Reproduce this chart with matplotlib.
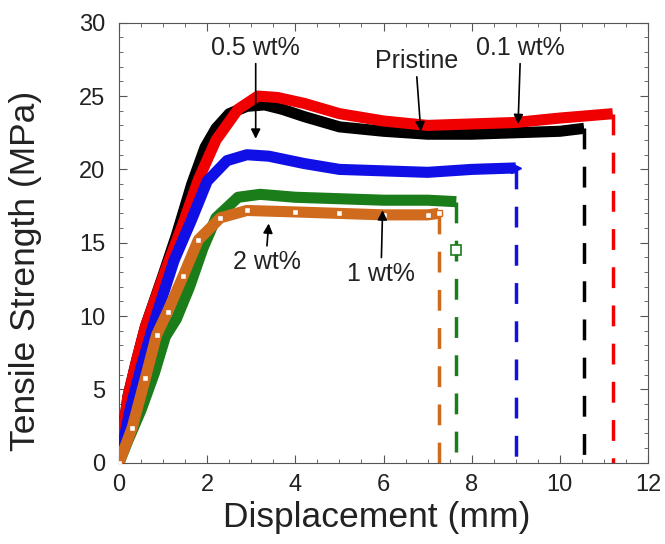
import matplotlib
matplotlib.use("Agg")
from matplotlib import pyplot as plt
from matplotlib.ticker import MultipleLocator

plt.rcParams['font.family'] = ['Liberation Sans', 'DejaVu Sans']

# curves: displacement (mm), tensile strength (MPa)
pristine_x = [0, 0.2, 0.4, 0.6, 1.0, 1.3, 1.65, 1.95, 2.2, 2.5, 2.9, 3.3, 3.7, 4.2, 5.0, 6.0, 7.0, 8.0, 9.0, 10.0, 10.55]
pristine_y = [0, 4.5, 7.0, 9.3, 12.8, 15.5, 19.0, 21.5, 22.8, 23.8, 24.3, 24.4, 24.1, 23.6, 22.9, 22.6, 22.4, 22.4, 22.5, 22.6, 22.8]

wt01_x = [0, 0.2, 0.4, 0.6, 1.05, 1.45, 1.8, 2.2, 2.7, 3.15, 3.6, 4.2, 5.0, 6.0, 7.0, 8.0, 9.0, 10.0, 11.2]
wt01_y = [0, 4.5, 7.0, 9.3, 13.1, 16.3, 19.3, 22.0, 24.1, 25.0, 24.9, 24.5, 23.8, 23.3, 23.0, 23.1, 23.2, 23.5, 23.8]

wt05_x = [0, 0.25, 0.5, 0.8, 1.25, 1.65, 2.0, 2.45, 2.9, 3.4, 4.2, 5.0, 6.0, 7.0, 8.0, 9.0]
wt05_y = [0, 3.6, 6.5, 9.6, 13.8, 16.6, 19.2, 20.6, 21.0, 20.9, 20.4, 20.0, 19.9, 19.8, 20.0, 20.1]

wt1_x = [0, 0.2, 0.5, 0.8, 1.05, 1.3, 1.6, 1.9, 2.2, 2.7, 3.2, 4.0, 5.0, 6.0, 7.0, 7.65]
wt1_y = [0, 1.5, 3.6, 6.1, 8.6, 9.8, 12.0, 14.6, 16.7, 18.1, 18.3, 18.1, 18.0, 17.9, 17.9, 17.8]

wt2_x = [0, 0.3, 0.6, 0.85, 1.1, 1.45, 1.8, 2.3, 2.9, 4.0, 5.0, 6.0, 7.0, 7.25]
wt2_y = [0, 2.4, 5.8, 8.7, 10.3, 12.7, 15.2, 16.7, 17.2, 17.1, 17.0, 16.9, 16.9, 17.0]

colors = {"pristine": "#000000", "0.1": "#f00000", "0.5": "#1010e6",
          "1": "#1a7d1a", "2": "#d06a1c"}

fig = plt.figure(figsize=(6.65, 5.44), dpi=100)
ax = fig.add_axes([0.179, 0.1494, 0.7955, 0.8088])

series = [
    (pristine_x, pristine_y, colors["pristine"]),
    (wt01_x, wt01_y, colors["0.1"]),
    (wt05_x, wt05_y, colors["0.5"]),
    (wt1_x, wt1_y, colors["1"]),
    (wt2_x, wt2_y, colors["2"]),
]
for xs, ys, c in series:
    ax.plot(xs, ys, color=c, lw=8, solid_capstyle="butt",
            solid_joinstyle="round", zorder=3)
    # failure line down to zero
    ax.plot([xs[-1], xs[-1]], [ys[-1], 0], color=c, lw=2.5,
            dashes=(6, 5), zorder=2)

# open square markers on the 2 wt% curve
ax.plot(wt2_x, wt2_y, ls="none", marker="s", ms=5, mfc="white",
        mec=colors["2"], mew=1, zorder=4)
ax.plot([wt1_x[-1]], [14.5], ls="none", marker="s", ms=7, mfc="white",
        mec=colors["1"], mew=1.2, zorder=4)
ax.plot([wt05_x[-1]], [wt05_y[-1]], ls="none", marker=">", ms=7,
        color=colors["0.5"], zorder=4)

arrow = dict(arrowstyle="-|>", color="black", lw=1.2, mutation_scale=14)
labels = [
    ("0.5 wt%", (3.1, 28.3), (3.1, 21.9), "bottom"),
    ("Pristine", (6.75, 27.4), (6.85, 22.4), "bottom"),
    ("0.1 wt%", (9.1, 28.3), (9.05, 22.9), "bottom"),
    ("2 wt%", (3.35, 13.7), (3.4, 16.5), "top"),
    ("1 wt%", (5.95, 12.9), (5.98, 17.4), "top"),
]
for text, xy_text, xy_tip, va in labels:
    start_y = xy_text[1] - 0.9 if va == "bottom" else xy_text[1] + 0.9
    ax.annotate("", xy=xy_tip, xytext=(xy_text[0], start_y),
                arrowprops=arrow, zorder=5)
    ax.text(xy_text[0], xy_text[1], text, ha="center",
            va="center", fontsize=18, color="#222222", zorder=6)

ax.set_xlim(0, 12)
ax.set_ylim(0, 30)
ax.xaxis.set_major_locator(MultipleLocator(2))
ax.xaxis.set_minor_locator(MultipleLocator(0.5))
ax.yaxis.set_major_locator(MultipleLocator(5))
ax.yaxis.set_minor_locator(MultipleLocator(1))
ax.tick_params(which="both", direction="in", top=True, right=True,
               labelsize=17, color="#555555", labelcolor="#222222")
ax.tick_params(which="major", length=6)
ax.tick_params(which="minor", length=3)
ax.tick_params(axis="y", which="major", pad=10)
ax.tick_params(axis="x", which="major", pad=8)
for s in ax.spines.values():
    s.set_color("#555555")
ax.set_xlabel("Displacement (mm)", fontsize=25.5, color="#222222")
ax.set_ylabel("Tensile Strength (MPa)", fontsize=25.5, color="#222222")
ax.xaxis.set_label_coords(0.488, -0.088)
ax.yaxis.set_label_coords(-0.146, 0.436)

fig.savefig("out.png", dpi=100)
